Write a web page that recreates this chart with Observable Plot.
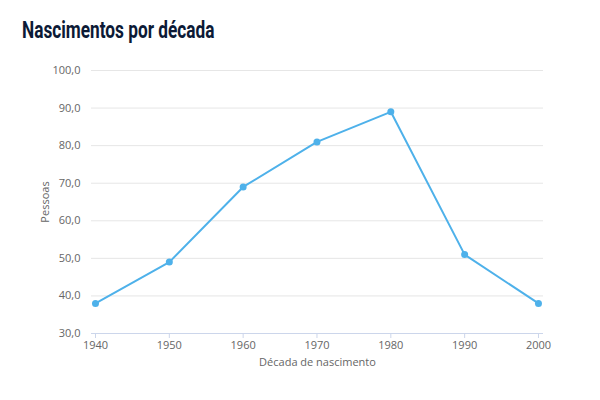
<!DOCTYPE html>
<html>
<head>
<meta charset="utf-8">
<script src="https://cdn.jsdelivr.net/npm/d3@7"></script>
<script src="https://cdn.jsdelivr.net/npm/@observablehq/plot@0.6"></script>
<style>
  html, body { margin: 0; padding: 0; background: #fff; }
  #wrap { position: relative; width: 600px; height: 400px; overflow: hidden; }
  #title { position: absolute; left: 22px; top: 17px; font-family: Roboto, sans-serif; font-weight: 700; font-size: 23px; color: #0c1a36; transform: scaleX(0.75); transform-origin: left top; white-space: nowrap; }
  #chart { position: absolute; left: 0; top: 0; }
</style>
</head>
<body>
<div id="wrap">
  <div id="chart"></div>
  <div id="title">Nascimentos por década</div>
</div>
<script>
const decades = [1940, 1950, 1960, 1970, 1980, 1990, 2000];
const births = [38, 49, 69, 81, 89, 51, 38];
const yTicks = [30, 40, 50, 60, 70, 80, 90, 100];
const titleText = "Nascimentos por década";
const xLabel = "Década de nascimento";
const yLabel = "Pessoas";

const data = decades.map((d, i) => ({decade: d, value: births[i]}));
const fmt = v => v.toFixed(1).replace(".", ",");
const blue = "#4eb1ea";

const chart = Plot.plot({
  width: 600,
  height: 400,
  marginLeft: 91,
  marginRight: 57,
  marginTop: 70,
  marginBottom: 67,
  style: {fontFamily: "'Open Sans', sans-serif", fontSize: "11px", color: "#666", background: "transparent"},
  x: {domain: [1939.46, 2000.68]},
  y: {domain: [30, 100]},
  marks: [
    Plot.gridY(yTicks, {stroke: "#e6e6e6", strokeOpacity: 1}),
    Plot.ruleY([30], {stroke: "#ccd6eb", strokeWidth: 1}),
    Plot.axisY(yTicks, {tickSize: 0, tickPadding: 11, tickFormat: fmt, label: yLabel, labelAnchor: "center", labelOffset: 50, labelArrow: "none", fill: "#666", fontSize: 11}),
    Plot.axisX(decades, {tickSize: 5, tickPadding: 3, tickFormat: d => String(d), stroke: "#ccd6eb", label: xLabel, labelAnchor: "center", labelOffset: 32, labelArrow: "none", fill: "#666", fontSize: 11}),
    Plot.line(data, {x: "decade", y: "value", stroke: blue, strokeWidth: 2}),
    Plot.dot(data, {x: "decade", y: "value", fill: blue, r: 3.5})
  ]
});
document.getElementById("chart").appendChild(chart);
</script>
</body>
</html>
